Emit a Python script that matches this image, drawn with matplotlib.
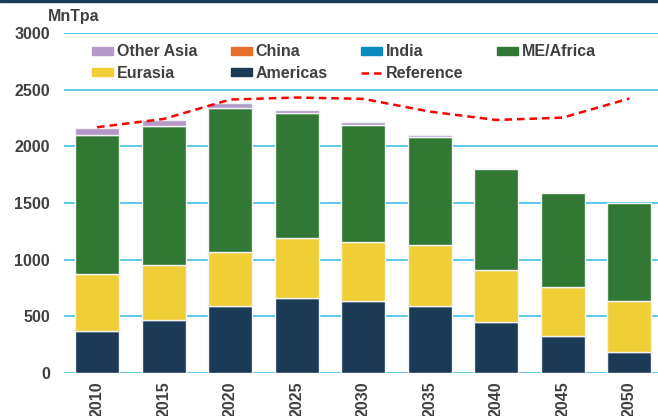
import matplotlib
matplotlib.use("Agg")
import matplotlib.pyplot as plt
import numpy as np
from matplotlib.patches import Patch, Rectangle
from matplotlib.lines import Line2D

years = ["2010", "2015", "2020", "2025", "2030", "2035", "2040", "2045", "2050"]
americas = [373, 468, 591, 662, 638, 591, 447, 326, 185]
eurasia = [501, 485, 474, 532, 515, 541, 462, 433, 447]
me_africa = [1226, 1224, 1270, 1097, 1032, 948, 888, 832, 865]
india = [0, 0, 0, 0, 0, 0, 0, 0, 0]
china = [0, 0, 0, 0, 0, 0, 0, 0, 0]
other_asia = [65, 53, 47, 33, 30, 23, 0, 0, 0]
reference = [2168, 2241, 2412, 2430, 2418, 2306, 2232, 2253, 2421]

series = [
    ("Americas", americas, "#1b3a56"),
    ("Eurasia", eurasia, "#f0cf36"),
    ("ME/Africa", me_africa, "#317834"),
    ("India", india, "#0a8bbf"),
    ("China", china, "#e8702a"),
    ("Other Asia", other_asia, "#b399c8"),
]
colors = {name: c for name, _, c in series}
FS = 11.5
TXT = "#404040"

plt.rcParams["font.family"] = ["Liberation Sans", "DejaVu Sans"]
plt.rcParams["font.weight"] = "bold"

fig = plt.figure(figsize=(6.58, 4.16), dpi=100)
ax = fig.add_axes([0.097, 0.103, 0.91, 0.818])

x = np.arange(len(years))
bottom = np.zeros(len(years))
for name, vals, c in series:
    vals = np.array(vals, dtype=float)
    # no outline on empty segments
    lw = np.where(vals > 0, 1.0, 0.0)
    ax.bar(x, vals, bottom=bottom, width=0.66, color=c, edgecolor="#f2f2f2",
           linewidth=lw, zorder=3)
    bottom += vals

ax.plot(x, reference, color="#ff0000", linestyle=(0, (3, 2)), linewidth=1.8, zorder=4)

ax.set_ylim(0, 3000)
ax.set_xlim(-0.5, len(years) - 0.5)
ax.set_yticks(range(0, 3001, 500))
ax.set_xticks(x)
ax.set_xticklabels(years, rotation=90, fontsize=FS, fontweight="bold", color=TXT)
ax.tick_params(axis="y", labelsize=FS, colors=TXT, length=0, pad=10)
ax.tick_params(axis="x", length=0, pad=6)
ax.grid(axis="y", color="#5bc8ea", linewidth=1.4, zorder=0)
for s in ax.spines.values():
    s.set_visible(False)

ax.text(-0.027, 1.047, "MnTpa", transform=ax.transAxes, fontsize=FS,
        fontweight="bold", color=TXT, ha="left", va="center")

handles = [
    Patch(color=colors["Other Asia"]),
    Patch(color=colors["Eurasia"]),
    Patch(color=colors["China"]),
    Patch(color=colors["Americas"]),
    Patch(color=colors["India"]),
    Line2D([0], [0], color="#ff0000", linestyle=(0, (3, 2)), linewidth=1.8),
    Patch(color=colors["ME/Africa"]),
]
labels = ["Other Asia", "Eurasia", "China", "Americas", "India", "Reference", "ME/Africa"]
leg = ax.legend(handles, labels, ncol=4, loc="upper left", bbox_to_anchor=(0.047, 0.966),
                frameon=False, handlelength=1.3, handleheight=0.4,
                handletextpad=0.25, columnspacing=2.1, labelspacing=0.4,
                borderpad=0, borderaxespad=0,
                prop={"weight": "bold", "size": FS})
for t in leg.get_texts():
    t.set_color(TXT)

fig.patches.append(Rectangle((0, 0.995), 1, 0.005, transform=fig.transFigure,
                             color="#1b3a56", zorder=10))

fig.savefig("out.png", dpi=100)
